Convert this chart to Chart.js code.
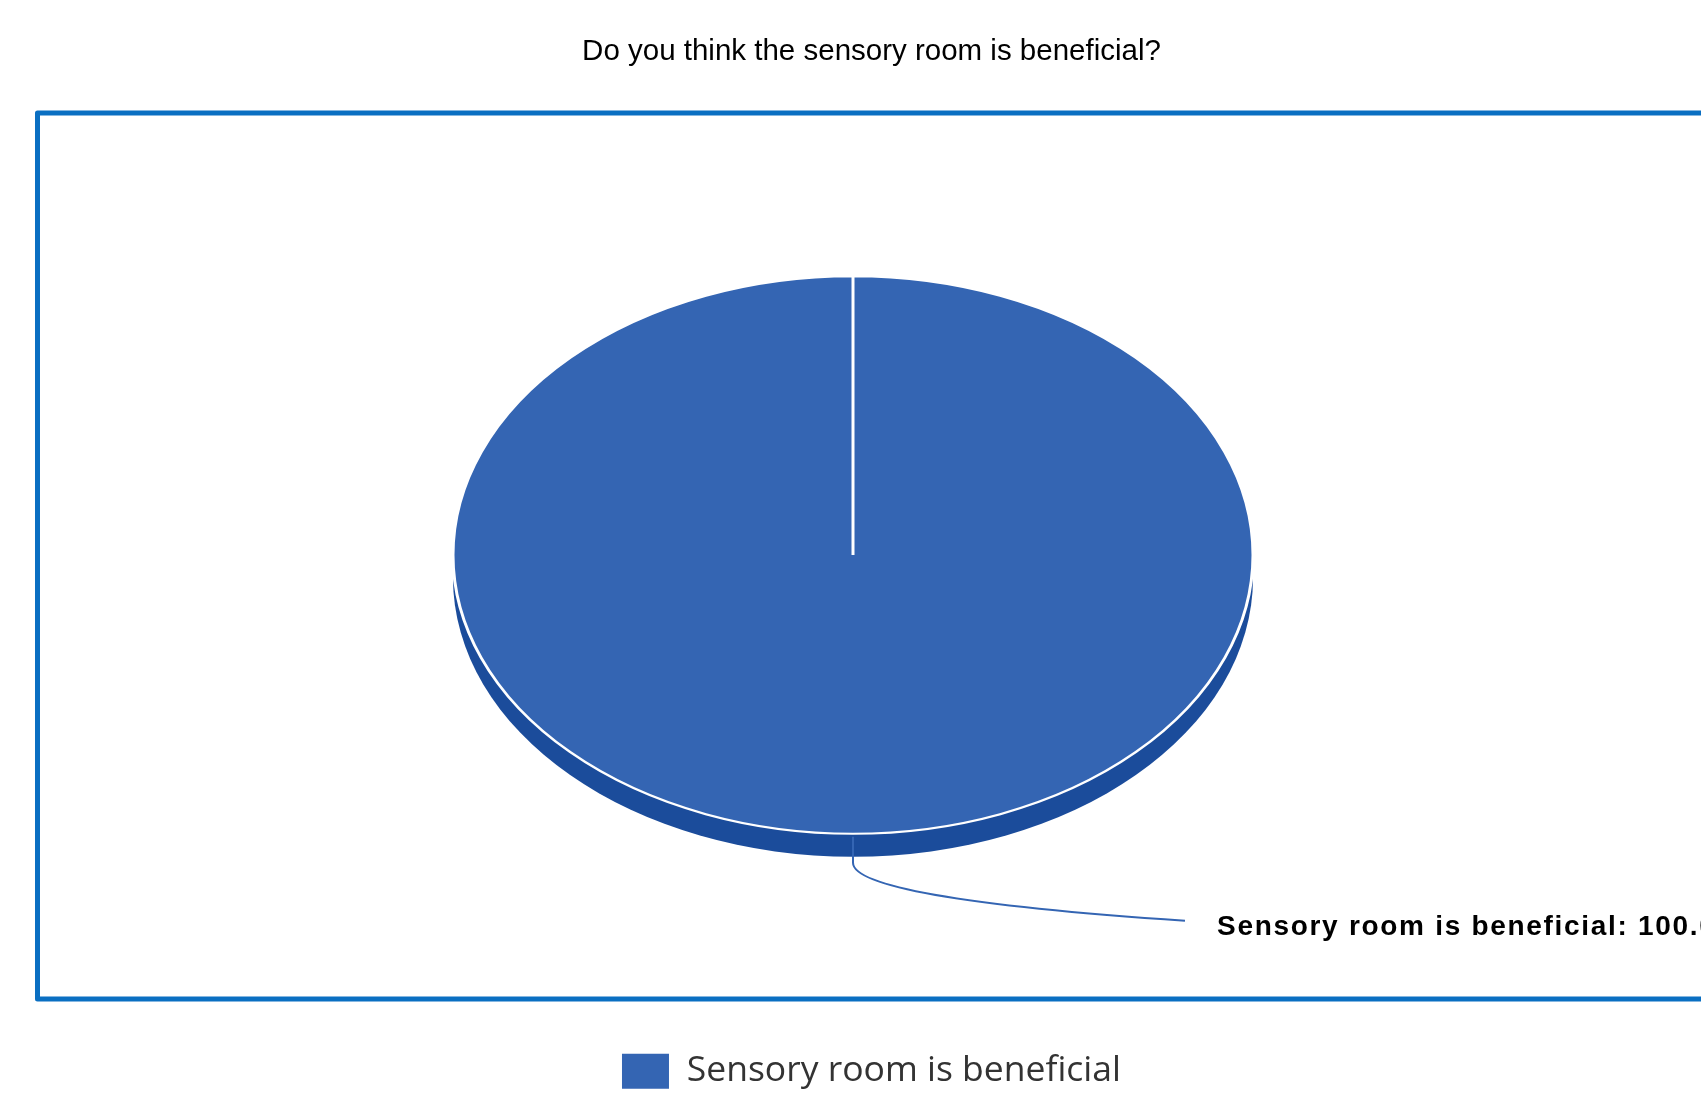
<!DOCTYPE html>
<html><head><meta charset="utf-8">
<script src="https://cdn.jsdelivr.net/npm/chart.js@4.4.1/dist/chart.umd.min.js"></script>
<style>html,body{margin:0;padding:0;background:#fff;overflow:hidden}canvas{display:block}</style>
</head><body>
<canvas id="c" width="1701" height="1095"></canvas>
<script>
const titleText = 'Do you think the sensory room is beneficial?';
const categories = ['Sensory room is beneficial'];
const percentValues = [100.0];
const sliceColors = ['#3465B3'];
const sideColors = ['#1B4C9B'];

const TILT = 0.697, DEPTH = 23, SHIFT = -18.5;

const framePlugin = {
  id: 'frame',
  beforeDraw(chart) {
    const ctx = chart.ctx;
    ctx.save();
    ctx.strokeStyle = '#0A6FC2';
    ctx.lineWidth = 5;
    ctx.lineJoin = 'round';
    ctx.strokeRect(37.5, 113, 1720, 886);
    ctx.restore();
  }
};

const pie3dPlugin = {
  id: 'pie3d',
  beforeDatasetsDraw(chart) {
    const ctx = chart.ctx;
    const arc = chart.getDatasetMeta(0).data[0];
    const cx = arc.x + SHIFT, cy = arc.y, rx = arc.outerRadius, ry = rx * TILT;
    ctx.save();
    ctx.fillStyle = sideColors[0];
    ctx.beginPath();
    ctx.ellipse(cx, cy + DEPTH, rx, ry, 0, 0, Math.PI * 2);
    ctx.fill();
    ctx.fillRect(cx - rx, cy, 2 * rx, DEPTH);
    ctx.restore();
    ctx.save();
    ctx.translate(cx, cy);
    ctx.scale(1, TILT);
    ctx.translate(-arc.x, -cy);
  },
  afterDatasetsDraw(chart) {
    chart.ctx.restore();
  },
  afterDraw(chart) {
    const ctx = chart.ctx;
    const meta = chart.getDatasetMeta(0);
    meta.data.forEach((arc, i) => {
      const mid = (arc.startAngle + arc.endAngle) / 2;
      const ax = arc.x + SHIFT + Math.cos(mid) * arc.outerRadius;
      const ay = arc.y + Math.sin(mid) * arc.outerRadius * TILT;
      ctx.save();
      ctx.strokeStyle = sliceColors[i];
      ctx.lineWidth = 2;
      ctx.beginPath();
      ctx.moveTo(ax, ay + 3);
      ctx.lineTo(ax, ay + 29);
      ctx.bezierCurveTo(ax, ay + 52, ax + 107, ay + 72, ax + 332, ay + 87);
      ctx.stroke();
      ctx.fillStyle = '#000';
      ctx.font = 'bold 28px "Liberation Sans", Arial, sans-serif';
      try { ctx.letterSpacing = '1.7px'; } catch (e) {}
      ctx.textBaseline = 'alphabetic';
      ctx.textAlign = 'left';
      ctx.fillText(categories[i] + ': ' + percentValues[i].toFixed(1) + '%', ax + 364, ay + 101);
      ctx.restore();
    });
  }
};

const chart = new Chart(document.getElementById('c'), {
  type: 'pie',
  data: {
    labels: categories,
    datasets: [{
      data: percentValues,
      backgroundColor: sliceColors,
      borderColor: '#ffffff',
      borderWidth: 3,
      radius: 400
    }]
  },
  options: {
    responsive: false,
    animation: false,
    events: [],
    layout: { padding: { left: 42, right: 0, top: 0, bottom: -4 } },
    plugins: {
      tooltip: { enabled: false },
      title: {
        display: true,
        text: titleText,
        color: '#000',
        font: { family: '"Liberation Sans", Arial, sans-serif', size: 29.5, weight: 'normal', lineHeight: 1.2 },
        padding: { top: 34, bottom: -3 }
      },
      legend: {
        display: true,
        position: 'bottom',
        labels: {
          boxWidth: 47,
          boxHeight: 35,
          padding: 10,
          color: '#333',
          font: { family: '"Open Sans", sans-serif', size: 35.5 },
          generateLabels(ch) {
            const items = Chart.overrides.pie.plugins.legend.labels.generateLabels(ch);
            return items.map(it => Object.assign(it, { lineWidth: 0, strokeStyle: 'rgba(0,0,0,0)' }));
          }
        }
      }
    }
  },
  plugins: [framePlugin, pie3dPlugin]
});

if (document.fonts && document.fonts.load) {
  Promise.all([
    document.fonts.load('29px "Liberation Sans"'),
    document.fonts.load('bold 28px "Liberation Sans"'),
    document.fonts.load('35px "Open Sans"')
  ]).then(() => chart.update('none')).catch(() => {});
}
</script>
</body></html>
